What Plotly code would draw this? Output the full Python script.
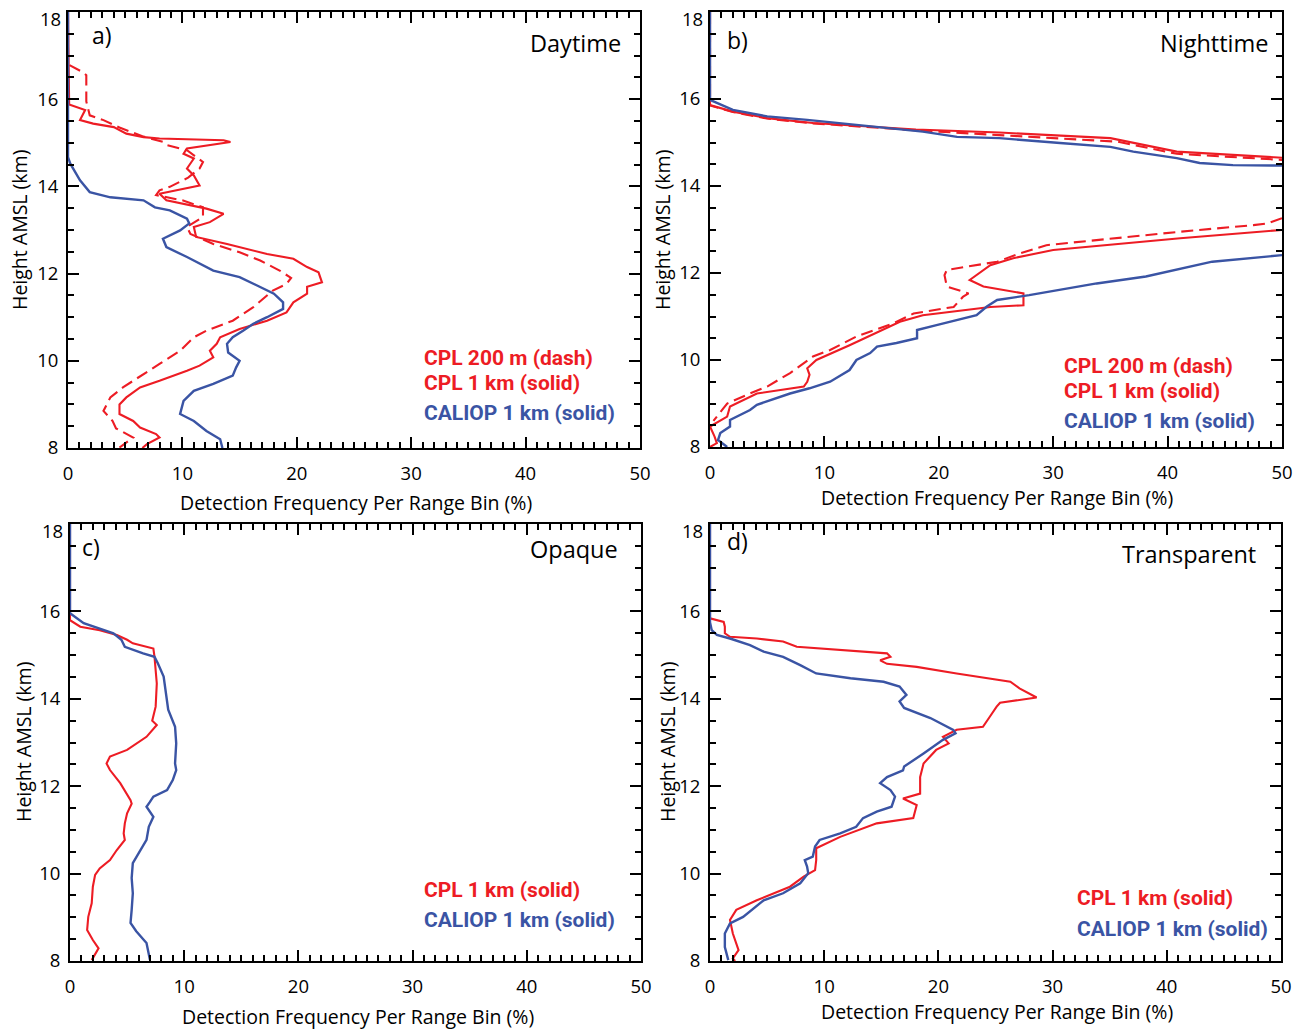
import plotly.graph_objects as go

# ---------------- data (height km, detection frequency %) ----------------
# Panel a) Daytime
A_CAL_H = [18.0, 14.67, 14.52, 14.14, 13.87, 13.75, 13.68, 13.52, 13.45, 13.26, 13.15, 12.99, 12.8, 12.61, 12.38, 12.2, 12.07, 11.92, 11.69, 11.54, 11.34, 11.19, 11.0, 10.85, 10.69, 10.54, 10.39, 10.19, 10.0, 9.85, 9.66, 9.47, 9.31, 9.08, 8.78, 8.62, 8.39, 8.2, 8.0]
A_CAL_V = [0, 0, 0.2, 1.05, 1.9, 3.7, 6.6, 7.6, 8.9, 10.4, 10.6, 9.8, 8.3, 8.6, 10.4, 11.8, 12.7, 15.0, 16.8, 18.0, 18.8, 18.8, 17.4, 16.2, 15.3, 14.4, 13.9, 14.0, 15.0, 14.7, 14.4, 12.7, 11.0, 10.1, 9.8, 11.0, 12.1, 13.3, 13.5]
A_CPL_H = [18.0, 15.88, 15.75, 15.52, 15.44, 15.36, 15.21, 15.13, 15.1, 15.06, 15.02, 14.97, 14.87, 14.75, 14.64, 14.41, 14.25, 14.02, 13.83, 13.68, 13.56, 13.49, 13.37, 13.18, 13.07, 12.84, 12.68, 12.45, 12.34, 12.15, 12.03, 11.8, 11.7, 11.54, 11.34, 11.11, 10.92, 10.73, 10.54, 10.39, 10.23, 10.08, 9.89, 9.77, 9.54, 9.39, 9.16, 9.0, 8.78, 8.62, 8.47, 8.32, 8.24, 8.09, 8.0]
A_CPL_V = [0, 0.1, 1.5, 1.05, 2.2, 4.0, 5.1, 6.6, 8.0, 13.6, 14.2, 13.0, 10.4, 10.1, 11.0, 10.4, 11.0, 11.5, 8.0, 8.6, 11.0, 12.1, 13.6, 12.4, 11.0, 11.2, 13.9, 17.4, 19.7, 20.9, 21.9, 22.2, 20.9, 20.9, 19.7, 19.1, 17.4, 15.0, 13.3, 13.0, 12.4, 12.7, 11.5, 10.4, 8.0, 6.3, 5.1, 4.5, 4.5, 5.7, 6.3, 7.7, 8.0, 6.9, 6.5]
A_DSH_H = [18.0, 16.8, 16.62, 16.55, 15.95, 15.63, 15.52, 15.35, 15.15, 15.02, 14.95, 14.83, 14.56, 14.41, 14.2, 13.99, 13.91, 13.8, 13.68, 13.52, 13.41, 13.3, 13.07, 12.91, 12.68, 12.49, 12.3, 12.07, 11.9, 11.76, 11.61, 11.23, 10.92, 10.69, 10.54, 10.23, 9.93, 9.7, 9.39, 9.16, 8.85, 8.62, 8.45, 8.24, 8.01]
A_DSH_V = [0, 0, 1.3, 1.6, 1.6, 1.9, 3.1, 4.5, 6.5, 8.3, 8.6, 10.4, 11.8, 11.5, 10.5, 8.9, 8.0, 7.7, 10.0, 11.8, 11.8, 11.8, 10.4, 10.7, 12.7, 15.0, 16.8, 18.5, 19.5, 19.1, 17.9, 16.2, 14.4, 12.1, 11.0, 9.8, 8.0, 6.6, 4.8, 3.7, 3.1, 3.9, 4.2, 5.7, 4.5]

# Panel b) Nighttime (None = profile leaves the 0-50 % window)
B_CAL_H = [18.0, 15.98, 15.75, 15.6, 15.52, 15.4, 15.25, 15.13, 15.1, 14.99, 14.9, 14.79, 14.64, 14.53, 14.48, 14.47, None,
           12.41, 12.26, 11.92, 11.76, 11.49, 11.38, 11.23, 11.03, 10.8, 10.69, 10.5, 10.39, 10.31, 10.16, 10.0, 9.77, 9.5, 9.35, 9.23, 8.97, 8.85, 8.62, 8.47, 8.32, 8.16, 8.0]
B_CAL_V = [0, 0, 2.0, 5.0, 8.5, 12.8, 18.6, 21.6, 25.3, 30.6, 35.0, 37.0, 40.8, 42.8, 45.7, 50.0, None,
           50.0, 43.9, 38.1, 33.8, 27.9, 25.1, 24.2, 23.3, 19.8, 18.1, 18.1, 16.3, 14.6, 14.0, 12.8, 12.2, 10.5, 8.7, 7.0, 4.1, 3.5, 1.75, 1.75, 0.9, 0.7, 1.5]
B_CPL_H = [18.0, 15.86, 15.71, 15.56, 15.45, 15.3, 15.23, 15.1, 14.79, 14.71, 14.65, None,
           12.99, 12.8, 12.53, 12.41, 12.34, 12.18, 12.07, 11.84, 11.69, 11.53, 11.26, 11.22, 11.03, 10.88, 10.34, 10.15, 10.0, 9.81, 9.66, 9.5, 9.39, 9.23, 9.04, 8.93, 8.7, 8.47, 8.24, 8.09, 8.0]
B_CPL_V = [0, 0, 2.0, 5.0, 9.0, 18.0, 25.3, 35.0, 40.8, 45.7, 50.0, None,
           50.0, 41.1, 30.0, 27.7, 26.5, 24.5, 23.9, 22.7, 23.9, 27.4, 27.4, 24.5, 18.6, 16.6, 12.2, 10.5, 9.3, 8.5, 8.7, 8.5, 8.2, 4.1, 2.6, 1.75, 1.5, 0, 0.4, 0.6, 0]
B_DSH_H = [18.0, 15.85, 15.7, 15.55, 15.44, 15.28, 15.17, 15.02, 14.74, 14.66, 14.6, None,
           13.26, 13.14, 13.1, 12.95, 12.64, 12.45, 12.26, 12.07, 11.95, 11.69, 11.53, 11.45, 11.22, 11.07, 10.84, 10.54, 10.23, 10.08, 9.7, 9.39, 9.23, 9.0, 8.9, 8.6]
B_DSH_V = [0, 0, 2.0, 5.0, 9.0, 18.0, 25.3, 35.6, 40.8, 45.7, 50.0, None,
           50.0, 48.7, 47.5, 41.1, 29.4, 27.1, 25.1, 20.7, 20.5, 20.7, 22.6, 22.1, 21.3, 17.8, 16.0, 12.8, 10.5, 9.0, 7.0, 5.0, 3.5, 1.5, 1.2, 0.3]

# Panel c) Opaque
C_CAL_H = [18.0, 15.96, 15.73, 15.61, 15.5, 15.35, 15.19, 15.04, 14.96, 14.81, 14.51, 13.75, 13.36, 12.98, 12.52, 12.37, 12.14, 11.91, 11.76, 11.64, 11.53, 11.3, 11.07, 10.77, 10.5, 10.24, 9.9, 9.55, 9.17, 8.87, 8.68, 8.41, 8.03]
C_CAL_V = [0, 0, 1.2, 2.6, 3.8, 4.5, 4.8, 6.4, 7.4, 7.7, 8.2, 8.6, 9.2, 9.3, 9.2, 9.3, 9.0, 8.5, 7.3, 7.0, 6.7, 7.3, 6.9, 6.7, 6.1, 5.5, 5.4, 5.5, 5.4, 5.3, 5.8, 6.7, 7.0]
C_CPL_H = [18.0, 15.8, 15.65, 15.57, 15.46, 15.35, 15.27, 15.15, 14.96, 14.35, 13.82, 13.59, 13.5, 13.4, 13.13, 12.83, 12.68, 12.52, 12.37, 12.07, 11.68, 11.6, 11.38, 11.15, 10.92, 10.77, 10.54, 10.31, 10.12, 9.97, 9.7, 9.32, 9.01, 8.71, 8.48, 8.29, 8.17, 8.02]
C_CPL_V = [0, 0, 0.9, 2.6, 4.1, 5.0, 5.5, 7.3, 7.4, 7.6, 7.5, 7.3, 7.2, 7.6, 6.7, 5.0, 3.5, 3.2, 3.5, 4.4, 5.3, 5.4, 5.0, 4.8, 4.7, 4.8, 4.1, 3.5, 2.6, 2.2, 2.0, 1.9, 1.6, 1.5, 2.0, 2.5, 2.2, 1.9]

# Panel d) Transparent
D_CAL_H = [18.0, 15.75, 15.57, 15.46, 15.38, 15.23, 15.08, 14.96, 14.77, 14.58, 14.47, 14.39, 14.28, 14.09, 13.94, 13.79, 13.56, 13.29, 13.21, 13.06, 12.75, 12.45, 12.36, 12.21, 12.07, 11.91, 11.76, 11.53, 11.42, 11.27, 11.07, 10.92, 10.77, 10.62, 10.39, 10.31, 10.16, 10.01, 9.78, 9.55, 9.39, 9.01, 8.86, 8.63, 8.32, 8.02]
D_CAL_V = [0, 0, 0.15, 0.6, 1.75, 3.5, 4.7, 6.4, 7.9, 9.3, 12.3, 15.2, 16.6, 17.2, 16.6, 17.0, 19.3, 21.3, 21.5, 20.4, 18.7, 17.0, 16.9, 15.5, 14.9, 15.8, 16.2, 15.9, 14.6, 13.4, 12.8, 11.4, 9.6, 9.2, 9.0, 8.3, 8.5, 8.6, 7.9, 6.4, 4.7, 2.9, 1.75, 1.3, 1.3, 1.6]
D_CPL_H = [18.0, 15.84, 15.76, 15.65, 15.5, 15.42, 15.38, 15.31, 15.19, 15.12, 15.04, 14.96, 14.88, 14.8, 14.73, 14.58, 14.47, 14.39, 14.24, 14.03, 13.91, 13.82, 13.59, 13.36, 13.29, 13.13, 12.98, 12.83, 12.52, 12.21, 11.83, 11.72, 11.57, 11.27, 11.15, 10.84, 10.58, 10.31, 10.08, 9.93, 9.7, 9.39, 9.17, 8.94, 8.63, 8.25, 8.06, 8.0]
D_CPL_V = [0, 0, 1.2, 1.3, 1.3, 1.75, 4.1, 6.4, 7.6, 11.4, 15.5, 15.8, 14.9, 15.5, 18.1, 21.6, 24.5, 26.3, 27.1, 28.6, 25.4, 25.1, 24.5, 23.9, 21.6, 20.4, 20.9, 19.8, 18.7, 18.4, 18.4, 16.9, 18.1, 17.8, 14.6, 11.4, 9.3, 9.3, 9.2, 8.2, 7.0, 4.1, 2.3, 1.75, 2.0, 2.5, 2.0, 2.2]

PANEL_LETTERS = ["a)", "b)", "c)", "d)"]
PANEL_NAMES = ["Daytime", "Nighttime", "Opaque", "Transparent"]
X_TITLE = "Detection Frequency Per Range Bin (%)"
Y_TITLE = "Height AMSL (km)"
LEG_DASH = "CPL 200 m (dash)"
LEG_CPL = "CPL 1 km (solid)"
LEG_CAL = "CALIOP 1 km (solid)"
Y_TICKS = [8, 10, 12, 14, 16]   # 18 km label is placed just below the top edge
Y_TOP = 18

# ---------------- styling / layout ----------------
W, H = 1301, 1029
RED = "#ED1C24"
BLUE = "#3A54A4"
FONT = "Open Sans, Noto Sans, sans-serif"
BOLD_FONT = "Roboto, sans-serif"


def px(x):
    return x / W


def py(y):
    return 1 - y / H


# panel pixel boxes: (x0, x1, ytop, ybottom)
BOXES = [(68, 640, 12, 448), (710, 1282, 12, 447), (70, 641, 524, 961), (710, 1281, 524, 961)]

fig = go.Figure()

series = [
    [(A_DSH_H, A_DSH_V, RED, "dash"), (A_CPL_H, A_CPL_V, RED, "solid"), (A_CAL_H, A_CAL_V, BLUE, "solid")],
    [(B_DSH_H, B_DSH_V, RED, "dash"), (B_CPL_H, B_CPL_V, RED, "solid"), (B_CAL_H, B_CAL_V, BLUE, "solid")],
    [(C_CPL_H, C_CPL_V, RED, "solid"), (C_CAL_H, C_CAL_V, BLUE, "solid")],
    [(D_CPL_H, D_CPL_V, RED, "solid"), (D_CAL_H, D_CAL_V, BLUE, "solid")],
]

for i, sl in enumerate(series):
    ax = "" if i == 0 else str(i + 1)
    for hh, vv, col, dash in sl:
        fig.add_trace(go.Scatter(
            x=vv, y=hh, mode="lines", xaxis="x" + ax, yaxis="y" + ax,
            line=dict(color=col, width=2.4 if col == BLUE else 2.1,
                      dash="12px,6px" if dash == "dash" else "solid"),
            connectgaps=False, showlegend=False, hoverinfo="skip"))

layout = dict(width=W, height=H, margin=dict(l=0, r=0, t=0, b=0, autoexpand=False),
              plot_bgcolor="white", paper_bgcolor="white", showlegend=False,
              font=dict(family=FONT, size=18.5, color="black"))

annotations = []
for i, (x0, x1, yt, yb) in enumerate(BOXES):
    ax = "" if i == 0 else str(i + 1)
    common = dict(showline=True, linewidth=2, linecolor="black", mirror="allticks",
                  ticks="inside", tickwidth=2, ticklen=11, tickcolor="black",
                  showgrid=False, zeroline=False, ticklabeloverflow="allow",
                  tickfont=dict(family=FONT, size=18.5))
    layout["xaxis" + ax] = dict(common, domain=[px(x0), px(x1)], range=[0, 50], tick0=0, dtick=10,
                                anchor="y" + ax, ticklabelstandoff=8,
                                minor=dict(ticks="inside", dtick=1, ticklen=6, tickwidth=1.5, tickcolor="black"))
    layout["yaxis" + ax] = dict(common, domain=[py(yb), py(yt)], range=[8, 18],
                                tickmode="array", tickvals=Y_TICKS + [Y_TOP],
                                ticktext=[str(v) for v in Y_TICKS] + [""],
                                anchor="x" + ax, ticklabelstandoff=4,
                                minor=dict(ticks="inside", tickmode="linear", tick0=8, dtick=0.5,
                                           ticklen=6, tickwidth=1.5, tickcolor="black"))
    # top "18" label, nudged below the frame edge as in the original
    annotations.append(dict(text=str(Y_TOP), x=px(x0 - 5), y=py(yt + 6), xref="paper", yref="paper",
                            xanchor="right", yanchor="middle", showarrow=False,
                            font=dict(family=FONT, size=18.5)))

# panel letters & names
LETTER_POS = [(90, 35), (725, 40), (80, 547), (725, 541)]
NAME_POS = [(623, 43), (1270, 43), (620, 549), (1258, 554)]
for i in range(4):
    annotations.append(dict(text=PANEL_LETTERS[i], x=px(LETTER_POS[i][0]), y=py(LETTER_POS[i][1]),
                            xref="paper", yref="paper", xanchor="left", yanchor="middle",
                            showarrow=False, font=dict(family=FONT, size=23)))
    annotations.append(dict(text=PANEL_NAMES[i], x=px(NAME_POS[i][0]), y=py(NAME_POS[i][1]),
                            xref="paper", yref="paper", xanchor="right", yanchor="middle",
                            showarrow=False, font=dict(family=FONT, size=23.5)))

# axis titles
YT_POS = [(19, 230), (662, 230), (23, 742), (667, 742)]
XT_POS = [(356, 502), (997, 497), (358, 1016), (997, 1011)]
for i in range(4):
    annotations.append(dict(text=Y_TITLE, x=px(YT_POS[i][0]), y=py(YT_POS[i][1]), textangle=-90,
                            xref="paper", yref="paper", xanchor="center", yanchor="middle",
                            showarrow=False, font=dict(family=FONT, size=19.5)))
    annotations.append(dict(text=X_TITLE, x=px(XT_POS[i][0]), y=py(XT_POS[i][1]),
                            xref="paper", yref="paper", xanchor="center", yanchor="middle",
                            showarrow=False, font=dict(family=FONT, size=19.5)))

# in-panel legends
LEGENDS = [
    [(LEG_DASH, RED, 422, 358), (LEG_CPL, RED, 422, 383), (LEG_CAL, BLUE, 422, 413)],
    [(LEG_DASH, RED, 1062, 366), (LEG_CPL, RED, 1062, 391), (LEG_CAL, BLUE, 1062, 421)],
    [(LEG_CPL, RED, 422, 890), (LEG_CAL, BLUE, 422, 920)],
    [(LEG_CPL, RED, 1075, 898), (LEG_CAL, BLUE, 1075, 929)],
]
for lg in LEGENDS:
    for txt, col, x, y in lg:
        annotations.append(dict(text="<b>" + txt + "</b>", x=px(x), y=py(y),
                                xref="paper", yref="paper", xanchor="left", yanchor="middle",
                                showarrow=False, font=dict(family=BOLD_FONT, size=21, color=col)))

layout["annotations"] = annotations
fig.update_layout(**layout)
fig.write_html("out.html", config={"displayModeBar": False},
               post_script="document.body.style.margin='0';")
